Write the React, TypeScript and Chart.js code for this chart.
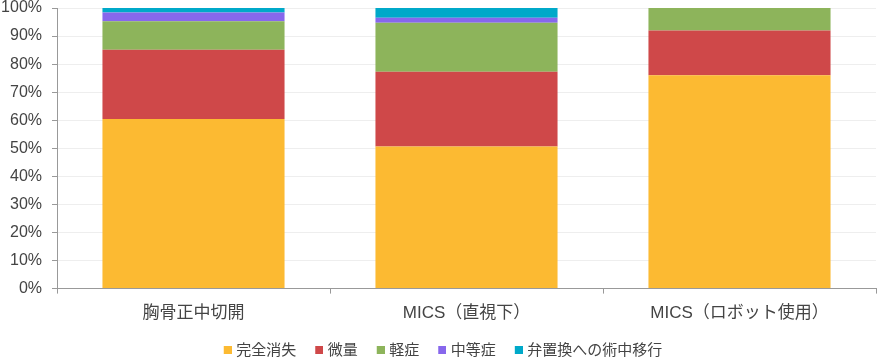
import React, { useEffect, useRef } from "react";
import { Chart, registerables } from "chart.js";

Chart.register(...registerables);

const categories = ["胸骨正中切開", "MICS（直視下）", "MICS（ロボット使用）"];
const seriesNames = ["完全消失", "微量", "軽症", "中等症", "弁置換への術中移行"];
const kanzen = [60.4, 50.6, 76.0];
const biryo = [24.7, 26.7, 16.0];
const keisho = [10.2, 17.4, 8.0];
const chutosho = [3.1, 1.8, 0];
const ikou = [1.6, 3.5, 0];
const colors = ["#FCBA32", "#CF4849", "#8DB45B", "#8767EC", "#00A9C9"];
const yTicks = [0, 10, 20, 30, 40, 50, 60, 70, 80, 90, 100];

const FONT = "'Liberation Sans', Arial, 'Noto Sans CJK JP', sans-serif";

function makeSwatch(color: string): HTMLCanvasElement {
  const c = document.createElement("canvas");
  c.width = 21;
  c.height = 9;
  const ctx = c.getContext("2d")!;
  ctx.fillStyle = color;
  ctx.fillRect(13, 0, 8, 8);
  return c;
}

export default function App() {
  const ref = useRef<HTMLCanvasElement | null>(null);
  useEffect(() => {
    document.body.style.margin = "0";
    if (!ref.current) return;
    const values = [kanzen, biryo, keisho, chutosho, ikou];
    const swatches = colors.map(makeSwatch);
    const chart = new Chart(ref.current, {
      type: "bar",
      data: {
        labels: categories,
        datasets: seriesNames.map((n, i) => ({
          label: n,
          data: values[i],
          backgroundColor: colors[i],
          borderWidth: 0,
          barPercentage: 0.667,
          categoryPercentage: 1,
        })),
      },
      options: {
        animation: false,
        responsive: true,
        maintainAspectRatio: false,
        layout: { padding: { top: 0, right: 4, left: 0, bottom: -10 } },
        plugins: {
          tooltip: { enabled: false },
          legend: {
            position: "bottom",
            labels: {
              usePointStyle: true,
              boxWidth: 15,
              boxHeight: 8,
              padding: 9,
              color: "#444",
              font: { family: FONT, size: 15 },
              generateLabels: (ch: any) => {
                const items = (Chart as any).defaults.plugins.legend.labels.generateLabels(ch);
                return items.map((it: any, i: number) => ({ ...it, pointStyle: swatches[i] }));
              },
            },
          },
        },
        scales: {
          x: {
            stacked: true,
            border: { color: "#999", width: 1 },
            grid: { drawOnChartArea: false, drawTicks: true, tickLength: 5, tickColor: "#999" },
            ticks: { color: "#444", font: { family: FONT, size: 17 }, padding: 10 },
          },
          y: {
            stacked: true,
            min: 0,
            max: 100,
            afterBuildTicks: (axis: any) => {
              axis.ticks = yTicks.map((v) => ({ value: v }));
            },
            afterFit: (scale: any) => {
              scale.width = 57;
              scale.paddingTop = 8;
            },
            border: { color: "#999", width: 1 },
            grid: { color: "#eeeeee", tickColor: "#999", tickLength: 5 },
            ticks: {
              color: "#444",
              font: { family: FONT, size: 16 },
              padding: 10,
              callback: (v: any) => v + "%",
            },
          },
        },
      },
    });
    return () => chart.destroy();
  }, []);
  return (
    <div style={{ position: "fixed", left: 0, top: 0, width: 880, height: 358 }}>
      <canvas ref={ref} />
    </div>
  );
}
